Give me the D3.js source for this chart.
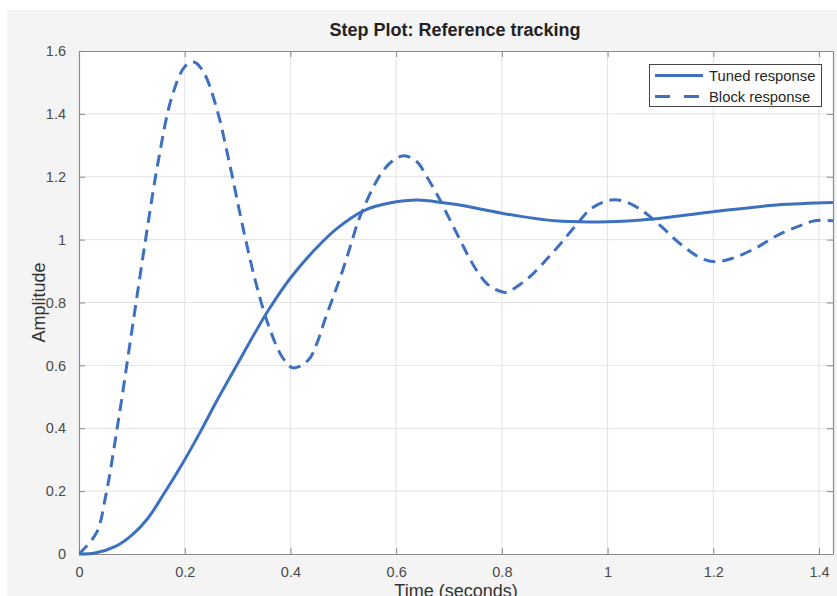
<!DOCTYPE html>
<html>
<head>
<meta charset="utf-8">
<script src="https://cdn.jsdelivr.net/npm/d3@7"></script>
<style>
  body { margin: 0; background: #fff; }
  svg { display: block; font-family: "Liberation Sans", Arial, sans-serif; }
</style>
</head>
<body>
<svg id="chart" width="837" height="596"></svg>
<script>
// step responses
let tunedTime = [0, 0.03, 0.07, 0.10, 0.13, 0.16, 0.20, 0.23, 0.26, 0.30, 0.33, 0.36, 0.40, 0.45,
  0.49, 0.54, 0.59, 0.64, 0.69, 0.72, 0.80, 0.90, 1.00, 1.08, 1.20, 1.32, 1.43];
let tunedAmp = [0, 0.003, 0.025, 0.06, 0.113, 0.19, 0.30, 0.39, 0.485, 0.605, 0.695, 0.78, 0.878, 0.975,
  1.038, 1.093, 1.117, 1.126, 1.117, 1.11, 1.084, 1.06, 1.057, 1.065, 1.089, 1.11, 1.118];

let blockTime = [0, 0.033, 0.05, 0.075, 0.10, 0.125, 0.15, 0.175, 0.20, 0.217, 0.235, 0.26, 0.285,
  0.31, 0.335, 0.36, 0.385, 0.405, 0.434, 0.45, 0.465, 0.481, 0.497, 0.513, 0.528, 0.541, 0.557,
  0.576, 0.595, 0.615, 0.639, 0.658, 0.683, 0.702, 0.721, 0.737, 0.752, 0.771, 0.79, 0.809, 0.828,
  0.853, 0.878, 0.906, 0.938, 0.97, 1.007, 1.033, 1.064, 1.102, 1.14, 1.178, 1.203, 1.235, 1.279,
  1.323, 1.367, 1.392, 1.43];
let blockAmp = [0, 0.067, 0.18, 0.43, 0.71, 0.99, 1.25, 1.45, 1.55, 1.565, 1.535, 1.42, 1.24,
  1.04, 0.86, 0.72, 0.625, 0.592, 0.617, 0.67, 0.744, 0.818, 0.893, 0.977, 1.058, 1.11, 1.168,
  1.221, 1.253, 1.267, 1.248, 1.2, 1.126, 1.062, 0.999, 0.946, 0.903, 0.861, 0.84, 0.832, 0.85,
  0.882, 0.925, 0.977, 1.041, 1.1, 1.126, 1.121, 1.094, 1.041, 0.983, 0.94, 0.93, 0.94, 0.972,
  1.015, 1.046, 1.06, 1.06];

let xTicks = [0, 0.2, 0.4, 0.6, 0.8, 1, 1.2, 1.4];
let yTicks = [0, 0.2, 0.4, 0.6, 0.8, 1, 1.2, 1.4, 1.6];
let seriesNames = ["Tuned response", "Block response"];

let lineColor = "#3d71c0";
let plotLeft = 79, plotRight = 833, plotTop = 51, plotBottom = 554;

let svg = d3.select("#chart");

// grey figure background
svg.append("rect")
  .attr("x", 7).attr("y", 10)
  .attr("width", 830).attr("height", 586)
  .attr("fill", "#f4f4f4");

svg.append("rect")
  .attr("x", plotLeft).attr("y", plotTop)
  .attr("width", plotRight - plotLeft).attr("height", plotBottom - plotTop)
  .attr("fill", "#fff");

let x = d3.scaleLinear().domain([0, 1.4264]).range([plotLeft, plotRight]);
let y = d3.scaleLinear().domain([0, 1.6]).range([plotBottom, plotTop]);

let fmt = d => String(+d.toFixed(1));

// grid
svg.append("g")
  .selectAll("line")
  .data(xTicks.filter(d => d > 0))
  .join("line")
  .attr("x1", d => x(d)).attr("x2", d => x(d))
  .attr("y1", plotTop).attr("y2", plotBottom)
  .attr("stroke", "#e3e3e3").attr("stroke-width", 1);

svg.append("g")
  .selectAll("line")
  .data(yTicks.filter(d => d > 0 && d < 1.6))
  .join("line")
  .attr("x1", plotLeft).attr("x2", plotRight)
  .attr("y1", d => y(d)).attr("y2", d => y(d))
  .attr("stroke", "#e3e3e3").attr("stroke-width", 1);

// axes (ticks pointing inward, box on all sides)
let axisColor = "#8a8a8a";
let textColor = "#4a4a4a";

function styleAxis(g) {
  g.select(".domain").attr("stroke", axisColor).attr("stroke-width", 1.2);
  g.selectAll(".tick line").attr("stroke", axisColor);
  g.selectAll(".tick text").attr("fill", textColor).attr("font-size", 14.5)
    .attr("font-family", "'Liberation Sans', Arial, sans-serif");
}

svg.append("g")
  .attr("transform", "translate(0," + plotBottom + ")")
  .call(d3.axisBottom(x).tickValues(xTicks).tickFormat(fmt).tickSizeInner(-6).tickSizeOuter(0).tickPadding(13))
  .call(styleAxis);

svg.append("g")
  .attr("transform", "translate(0," + plotTop + ")")
  .call(d3.axisTop(x).tickValues(xTicks).tickFormat("").tickSizeInner(-6).tickSizeOuter(0))
  .call(styleAxis);

svg.append("g")
  .attr("transform", "translate(" + plotLeft + ",0)")
  .call(d3.axisLeft(y).tickValues(yTicks).tickFormat(fmt).tickSizeInner(-6).tickSizeOuter(0).tickPadding(13))
  .call(styleAxis);

svg.append("g")
  .attr("transform", "translate(" + plotRight + ",0)")
  .call(d3.axisRight(y).tickValues(yTicks).tickFormat("").tickSizeInner(-6).tickSizeOuter(0))
  .call(styleAxis);

// curves
svg.append("clipPath").attr("id", "plotclip")
  .append("rect")
  .attr("x", plotLeft).attr("y", plotTop - 2)
  .attr("width", plotRight - plotLeft).attr("height", plotBottom - plotTop + 4);

let line = d3.line()
  .x(d => x(d[0]))
  .y(d => y(d[1]))
  .curve(d3.curveCatmullRom.alpha(0.5));

svg.append("path")
  .attr("d", line(d3.zip(tunedTime, tunedAmp)))
  .attr("clip-path", "url(#plotclip)")
  .attr("fill", "none")
  .attr("stroke", lineColor)
  .attr("stroke-width", 3);

svg.append("path")
  .attr("d", line(d3.zip(blockTime, blockAmp)))
  .attr("clip-path", "url(#plotclip)")
  .attr("fill", "none")
  .attr("stroke", lineColor)
  .attr("stroke-width", 3)
  .attr("stroke-dasharray", "12,7");

// titles
svg.append("text")
  .attr("x", (plotLeft + plotRight) / 2 - 1).attr("y", 35.5)
  .attr("text-anchor", "middle")
  .attr("font-size", 18).attr("font-weight", "bold")
  .attr("fill", "#222")
  .text("Step Plot: Reference tracking");

svg.append("text")
  .attr("x", (plotLeft + plotRight) / 2).attr("y", 597)
  .attr("text-anchor", "middle")
  .attr("font-size", 18)
  .attr("fill", "#333")
  .text("Time (seconds)");

svg.append("text")
  .attr("transform", "translate(44.5," + ((plotTop + plotBottom) / 2) + ") rotate(-90)")
  .attr("text-anchor", "middle")
  .attr("font-size", 18)
  .attr("fill", "#333")
  .text("Amplitude");

// legend
let legend = svg.append("g");
legend.append("rect")
  .attr("x", 649.5).attr("y", 64.5)
  .attr("width", 172).attr("height", 42)
  .attr("fill", "#fff")
  .attr("stroke", "#444").attr("stroke-width", 1);

seriesNames.forEach(function (name, i) {
  let ly = 75.5 + i * 21;
  legend.append("line")
    .attr("x1", 655).attr("x2", 703)
    .attr("y1", ly).attr("y2", ly)
    .attr("stroke", lineColor)
    .attr("stroke-width", 3)
    .attr("stroke-dasharray", i === 1 ? "15,14" : null);
  legend.append("text")
    .attr("x", 709).attr("y", ly + 5)
    .attr("font-size", 14.8)
    .attr("fill", "#262626")
    .text(name);
});
</script>
</body>
</html>
